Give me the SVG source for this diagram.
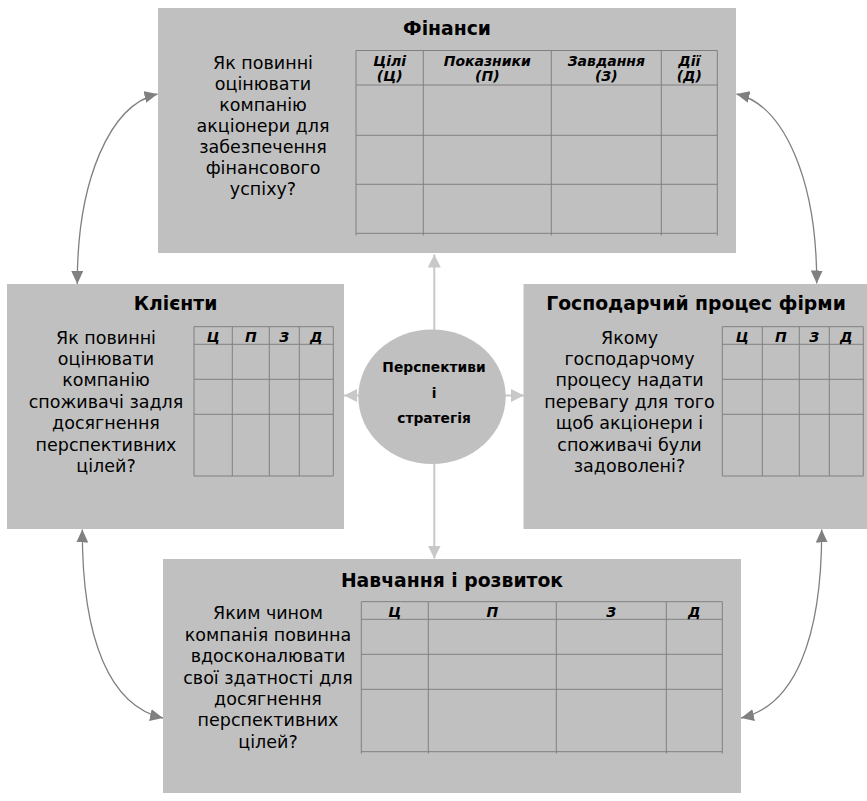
<svg xmlns="http://www.w3.org/2000/svg" width="867" height="801" viewBox="0 0 867 801">
<style>
.box{fill:#c0c0c0}
.title{font-family:"DejaVu Sans",Verdana,sans-serif;font-weight:bold;font-size:18.8px;text-anchor:middle;fill:#000}
.body{font-family:"DejaVu Sans",Verdana,sans-serif;font-size:17.5px;text-anchor:middle;fill:#000}
.hdr{font-family:"DejaVu Sans",Verdana,sans-serif;font-size:14px;font-weight:bold;font-style:italic;text-anchor:middle;fill:#000}
.ctr{font-family:"DejaVu Sans",Verdana,sans-serif;font-size:13.8px;font-weight:bold;text-anchor:middle;fill:#000}
.grid{stroke:#808080;stroke-width:1;fill:none}
.curve{stroke:#808080;stroke-width:1.3;fill:none;marker-start:url(#dk);marker-end:url(#dk)}
.ray{stroke:#c8c8c8;stroke-width:2;fill:none;marker-end:url(#lt)}
</style>
<defs>
<marker id="dk" markerUnits="userSpaceOnUse" markerWidth="13" markerHeight="12" refX="13" refY="6" orient="auto-start-reverse" viewBox="0 0 13 12">
<path d="M0,0 L13,6 L0,12 z" fill="#808080"/>
</marker>
<marker id="lt" markerUnits="userSpaceOnUse" markerWidth="13" markerHeight="13" refX="13" refY="6.5" orient="auto" viewBox="0 0 13 13">
<path d="M0,0 L13,6.5 L0,13 z" fill="#c8c8c8"/>
</marker>
</defs>
<rect width="867" height="801" fill="#fff"/>

<g id="finance">
<rect class="box" x="158" y="8" width="578" height="245"/>
<text class="title" x="447" y="35">Фінанси</text>
<text class="body"><tspan x="263" y="69">Як повинні</tspan><tspan x="263" y="90">оцінювати</tspan><tspan x="263" y="111">компанію</tspan><tspan x="263" y="132">акціонери для</tspan><tspan x="263" y="153">забезпечення</tspan><tspan x="263" y="174">фінансового</tspan><tspan x="263" y="195">успіху?</tspan></text>
<g class="grid">
<path d="M356,50.5 H717.3 M356,85 H717.3 M356,135.3 H717.3 M356,184.3 H717.3 M356,233.3 H717.3"/>
<path d="M356,50.5 V235.5 M423.3,50.5 V235.5 M551.3,50.5 V235.5 M661.3,50.5 V235.5 M717.3,50.5 V235.5"/>
</g>
<text class="hdr"><tspan x="389.7" y="65.5">Цілі</tspan><tspan x="389.7" y="80.5">(Ц)</tspan></text>
<text class="hdr"><tspan x="487.3" y="65.5">Показники</tspan><tspan x="487.3" y="80.5">(П)</tspan></text>
<text class="hdr"><tspan x="606.3" y="65.5">Завдання</tspan><tspan x="606.3" y="80.5">(З)</tspan></text>
<text class="hdr"><tspan x="689.3" y="65.5">Дії</tspan><tspan x="689.3" y="80.5">(Д)</tspan></text>
</g>

<g id="clients">
<rect class="box" x="7" y="284" width="337" height="245"/>
<text class="title" x="175.5" y="309.5">Клієнти</text>
<text class="body"><tspan x="106" y="343.5">Як повинні</tspan><tspan x="106" y="365">оцінювати</tspan><tspan x="106" y="386.4">компанію</tspan><tspan x="106" y="407.8">споживачі задля</tspan><tspan x="106" y="429.2">досягнення</tspan><tspan x="106" y="450.6">перспективних</tspan><tspan x="106" y="472">цілей?</tspan></text>
<g class="grid">
<path d="M194,326.7 H333.3 M194,344.3 H333.3 M194,379.3 H333.3 M194,414.3 H333.3 M194,476 H333.3"/>
<path d="M194,326.7 V476 M232.3,326.7 V476 M269.3,326.7 V476 M299.3,326.7 V476 M333.3,326.7 V476"/>
</g>
<text class="hdr" y="341.5"><tspan x="213.2">Ц</tspan><tspan x="250.8">П</tspan><tspan x="284.3">З</tspan><tspan x="316.3">Д</tspan></text>
</g>

<g id="process">
<rect class="box" x="523.5" y="284" width="343.5" height="245"/>
<text class="title" x="696" y="310">Господарчий процес фірми</text>
<text class="body"><tspan x="629.5" y="343.5">Якому</tspan><tspan x="629.5" y="365">господарчому</tspan><tspan x="629.5" y="386.4">процесу надати</tspan><tspan x="629.5" y="407.8">перевагу для того</tspan><tspan x="629.5" y="429.2">щоб акціонери і</tspan><tspan x="629.5" y="450.6">споживачі були</tspan><tspan x="629.5" y="472">задоволені?</tspan></text>
<g class="grid">
<path d="M722.3,326.7 H863.3 M722.3,344.3 H863.3 M722.3,379.3 H863.3 M722.3,414.3 H863.3 M722.3,476 H863.3"/>
<path d="M722.3,326.7 V476 M762.3,326.7 V476 M799.3,326.7 V476 M829.3,326.7 V476 M863.3,326.7 V476"/>
</g>
<text class="hdr" y="341.5"><tspan x="742.3">Ц</tspan><tspan x="780.8">П</tspan><tspan x="814.3">З</tspan><tspan x="846.3">Д</tspan></text>
</g>

<g id="learning">
<rect class="box" x="163" y="559" width="578" height="234"/>
<text class="title" x="452" y="587">Навчання і розвиток</text>
<text class="body"><tspan x="268" y="619.3">Яким чином</tspan><tspan x="268" y="640.7">компанія повинна</tspan><tspan x="268" y="662.1">вдосконалювати</tspan><tspan x="268" y="683.5">свої здатності для</tspan><tspan x="268" y="704.9">досягнення</tspan><tspan x="268" y="726.3">перспективних</tspan><tspan x="268" y="747.7">цілей?</tspan></text>
<g class="grid">
<path d="M361.3,601.7 H722.3 M361.3,619.3 H722.3 M361.3,654.3 H722.3 M361.3,689.3 H722.3 M361.3,751.7 H722.3"/>
<path d="M361.3,601.7 V753.7 M428.3,601.7 V753.7 M556.3,601.7 V753.7 M666.3,601.7 V753.7 M722.3,601.7 V753.7"/>
</g>
<text class="hdr" y="617"><tspan x="394.8">Ц</tspan><tspan x="492.3">П</tspan><tspan x="611.3">З</tspan><tspan x="694.3">Д</tspan></text>
</g>

<g id="connectors">
<path class="ray" d="M434.3,330 V254.5"/>
<path class="ray" d="M434.3,463 V558.5"/>
<path class="ray" d="M359,395.5 H344"/>
<path class="ray" d="M505,395.5 H524"/>
<path class="curve" d="M77.3,284 C77,180 110,105 157.5,94"/>
<path class="curve" d="M816.7,283.5 C817,180 784,105 736.5,94"/>
<path class="curve" d="M82.3,529.5 C82,640 110,706 163,718"/>
<path class="curve" d="M821.7,529.5 C822,640 794,706 741,718"/>
</g>

<g id="center">
<ellipse class="box" cx="432" cy="396.7" rx="73.7" ry="67.3"/>
<text class="ctr"><tspan x="434" y="372">Перспективи</tspan><tspan x="434" y="398.3">і</tspan><tspan x="434" y="422.7">стратегія</tspan></text>
</g>
</svg>
